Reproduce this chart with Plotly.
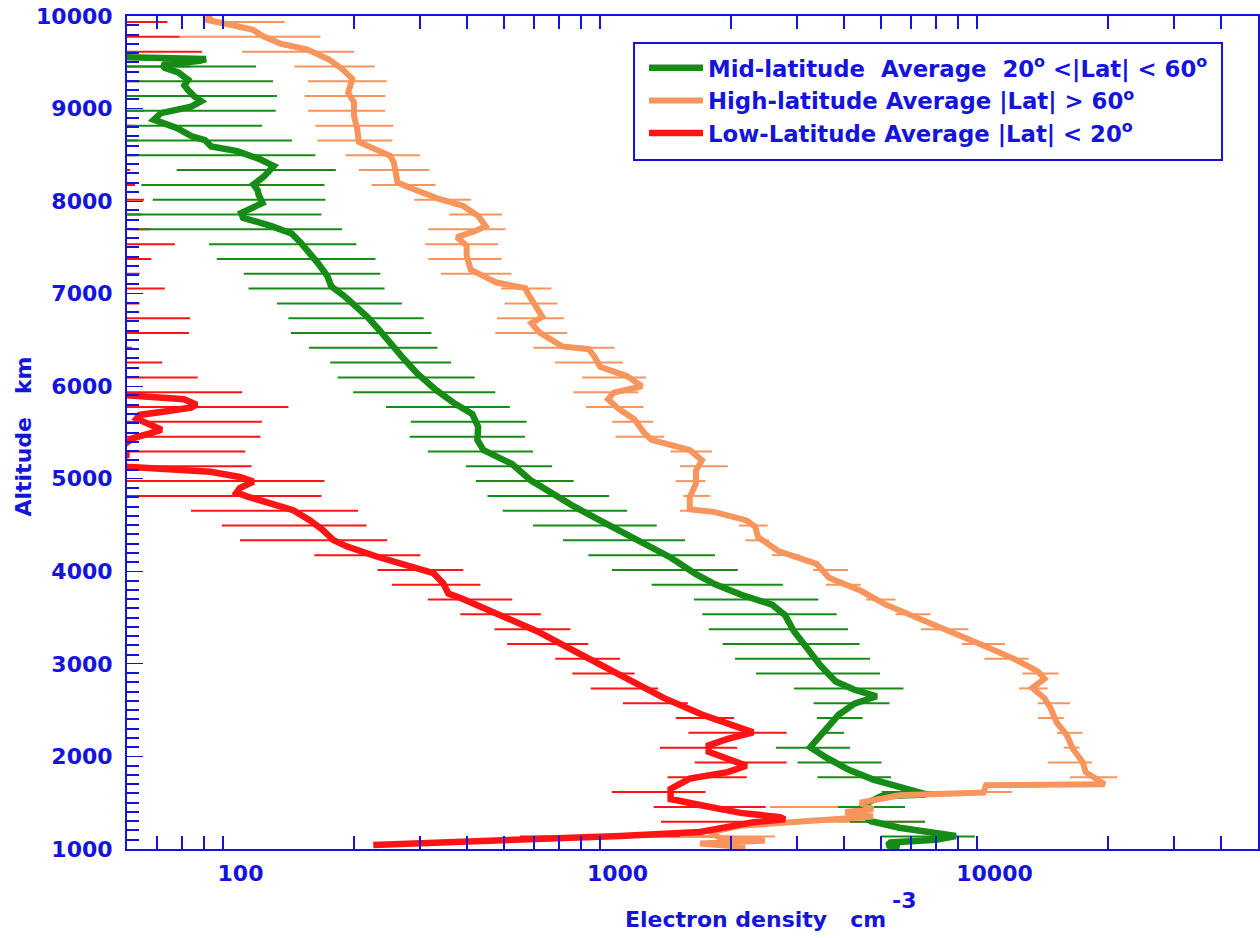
import math
import plotly.graph_objects as go

BLUE = "#1414dc"
GREEN = "#168c16"
ORANGE = "#f7955c"
RED = "#fe1414"
FONT = "DejaVu Sans"

# ---------------- averaged profiles (altitude km, electron density cm^-3) -------------
mid_alt = [9560, 9550, 9535, 9515, 9495, 9470, 9440, 9390, 9310, 9250, 9200, 9140, 9080, 9020,
           8950, 8880, 8790, 8700, 8660, 8590, 8540, 8450, 8380, 8270, 8180, 8120, 8070, 7980,
           7870, 7820, 7730, 7650, 7550, 7440, 7330, 7190, 7080, 6970, 6860, 6750, 6610, 6460,
           6320, 6140, 5960, 5810, 5700, 5560, 5420, 5310, 5160, 4980, 4870, 4690, 4510, 4330,
           4150, 3970, 3860, 3750, 3640, 3530, 3350, 3170, 2990, 2810, 2720, 2650, 2570, 2450,
           2260, 2100, 1990, 1860, 1750, 1650, 1590, 1570, 1480, 1400, 1300, 1230, 1180, 1140,
           1100, 1070, 1040, 1010]
mid_ne = [44, 70, 81, 78, 66, 62, 63, 68.4, 72.6, 71, 72.6, 75, 78.7, 74,
          61.5, 58.9, 67.7, 74.3, 80.5, 83.6, 98, 113, 122.5, 115.7, 108.3, 111, 111.7, 114.4,
          100.4, 101.6, 120.8, 136.6, 144.5, 153, 160.4, 170, 174, 189, 203.7, 217, 233, 249.7,
          268, 293.7, 330, 371, 412, 427, 425, 441, 525, 590, 650, 775, 938, 1140,
          1383, 1615, 1815, 2120, 2570, 2780, 2940, 3185, 3440, 3790, 4250, 4870, 4250, 3860,
          3510, 3245, 3575, 4085, 4770, 5790, 6600, 5000, 4500, 4400, 4700, 5600, 6700, 7900,
          7000, 5300, 5200, 5600]

high_alt = [10000, 9960, 9900, 9850, 9780, 9700, 9640, 9530, 9420, 9320, 9170, 9070, 8920, 8780,
            8640, 8560, 8490, 8420, 8310, 8200, 8130, 8020, 7950, 7840, 7730, 7680, 7610, 7520,
            7410, 7260, 7120, 7060, 7010, 6860, 6750, 6680, 6580, 6430, 6400, 6320, 6210, 6110,
            6000, 5930, 5860, 5750, 5640, 5500, 5420, 5310, 5200, 5090, 4950, 4800, 4670, 4640,
            4550, 4480, 4370, 4220, 4080, 3930, 3790, 3640, 3500, 3350, 3210, 3060, 2920, 2840,
            2740, 2630, 2520, 2370, 2230, 2080, 1940, 1830, 1730, 1700, 1690, 1610, 1580, 1500,
            1430, 1400, 1350, 1290, 1250, 1180, 1120, 1090, 1060, 1020]
high_ne = [84, 81, 95.5, 108, 115, 128, 150, 172, 187, 198, 193, 200, 200, 204,
           206, 227, 249.5, 255, 258, 261, 287, 338, 389, 427, 447, 421, 375, 398,
           398, 408, 478, 570, 577, 605, 632, 591, 621, 713, 839, 869, 899, 1059,
           1161, 977, 944, 1011, 1110, 1175, 1230, 1555, 1675, 1615, 1615, 1555, 1555, 1815,
           2200, 2320, 2360, 2670, 3375, 3640, 4420, 5150, 6260, 7600, 9210, 11190, 13040, 13570,
           12600, 13570, 14100, 14600, 15550, 16150, 17140, 17460, 18900, 19600, 9500, 9350, 5600, 4400,
           4760, 4020, 4760, 3050, 2115, 1760, 1870, 2460, 1655, 2185]

low_alt = [5930, 5905, 5890, 5860, 5800, 5770, 5730, 5690, 5650, 5600, 5530, 5490, 5440, 5380,
           5330, 5260, 5190, 5130, 5110, 5075, 5020, 4970, 4900, 4850, 4810, 4730, 4660, 4550,
           4450, 4340, 4270, 4160, 4050, 3980, 3870, 3760, 3710, 3530, 3350, 3170, 2990, 2810,
           2630, 2450, 2340, 2260, 2190, 2120, 2050, 1970, 1900, 1830, 1760, 1650, 1540, 1470,
           1390, 1345, 1320, 1290, 1238, 1184, 1140, 1097, 1065, 1043]
low_ne = [40, 50, 57.5, 70.8, 76.5, 74, 63.7, 54, 53, 56, 61.8, 57.5, 52, 49.5,
          45, 50.5, 45, 50, 63.7, 83.2, 99.6, 108.2, 99.6, 97.6, 104, 119, 138, 153,
          165, 176, 191, 229.6, 282, 325, 345, 356, 385, 486, 614, 743, 904, 1097,
          1330, 1680, 2040, 2290, 1960, 1745, 1745, 1960, 2200, 1960, 1555, 1383, 1383, 1680,
          2120, 2700, 2780, 2300, 1980, 1655, 1016, 519, 344, 225]

# ---------------- error-bar rows (altitude km) and their lower / upper ends ----------------
bar_alt = [1135, 1295, 1455, 1615, 1775, 1935, 2095, 2255, 2415, 2575, 2735, 2895, 3055, 3215,
           3375, 3535, 3695, 3855, 4015, 4175, 4335, 4495, 4655, 4815, 4975, 5135, 5295, 5455,
           5615, 5775, 5935, 6095, 6255, 6415, 6575, 6735, 6895, 7055, 7215, 7375, 7535, 7695,
           7855, 8015, 8175, 8335, 8495, 8655, 8815, 8975, 9135, 9295, 9455, 9615, 9775, 9935]

mid_lo = [5000, 4139, 3846, 5022, 3393, 3002, 2633, 3424, 3382, 3311, 2940, 2331, 2050, 1900,
          1746, 1679, 1596, 1232, 966, 837, 717, 597, 496, 452, 421, 396, 314, 281,
          283, 243, 199, 181, 173, 152, 136, 134, 125, 105, 102, 86.5, 82.5, 51,
          49, 58.5, 54.6, 67.7, 45, 40, 40, 40, 40, 40, 40, None, None, None]
mid_hi = [8875, 6541, 5789, 7080, 5315, 5015, 4139, 3990, 4467, 5266, 5737, 4969, 4676, 4385,
          4089, 3815, 3410, 2745, 2085, 1814, 1510, 1271, 1060, 950, 765, 671, 597, 568,
          574, 518, 474, 418, 362, 333, 321, 306, 268, 241, 235, 228, 203, 186,
          164, 168, 167, 179, 158, 137, 114, 124, 125, 122, 110, None, None, None]

high_lo = [1465, 2538, 2538, 7080, 15860, 13840, 15260, 14650, 13040, 13040, 11610, 11860, 9404, 8203,
           6385, 5467, 4563, 3573, 3301, 2570, 2184, 2101, 1465, 1495, 1427, 1465, 1384, 988,
           969, 825, 764, 806, 683, 598, 474, 479, 502, 491, 340, 315, 309, 315,
           358, 289, 223, 206, 190, 160, 158, 151, 148, 151, 139, 101, 69, 86]
high_hi = [2617, 6541, 5513, 11130, 21190, 18140, 16800, 17130, 15260, 15860, 13840, 14790, 12320, 10660,
           8533, 6767, 5467, 4420, 4089, 3036, 2522, 2501, 1781, 1760, 1712, 1961, 1781, 1331,
           1243, 1171, 1136, 1190, 1034, 983, 735, 721, 693, 668, 523, 493, 482, 505,
           494, 409, 329, 317, 299, 253, 254, 242, 242, 244, 227, 200, 163, 131]

low_lo = [551, 1304, 1247, 966, 1358, 1603, 1296, 1542, 1427, 1034, 849, 759, 684, 510,
          472, 383, 314, 252, 231, 157, 99.7, 89.3, 73.9, 20, 20, 20, 20, 20,
          20, 20, 20, 20, 20, 20, 20, 20, 20, 20, 20, 20, 20, 20,
          20, 20, 20, 20, 20, 20, 20, 20, 20, 20, 20, 20, 20, 20]
low_hi = [1871, 2570, 2473, 1712, 2203, 2810, 2078, 2810, 2037, 1537, 1281, 1110, 1016, 837,
          750, 626, 526, 433, 390, 300, 245, 216, 205, 164, 167, 107, 103, 113,
          114, 134, 101, 77, 62, 51.5, 73, 73.5, 54, 63, 54, 58, 67, 57.5,
          54.6, 55.5, 52.5, 51, 53, 53.5, 52, 55.5, 52.5, 54, 73.5, 79, 69, 64]

x_major = [100, 1000, 10000]
x_minor = [60, 70, 80, 90, 200, 300, 400, 500, 600, 700, 800, 900,
           2000, 3000, 4000, 5000, 6000, 7000, 8000, 9000, 20000, 30000, 40000]

names = {
    "mid": "Mid-latitude&nbsp; Average&nbsp; 20<sup>o</sup> &lt;|Lat| &lt; 60<sup>o</sup>",
    "high": "High-latitude Average |Lat| &gt; 60<sup>o</sup>",
    "low": "Low-Latitude Average |Lat| &lt; 20<sup>o</sup>",
}


def bar_trace(lo, hi, color):
    ys, xs, plus, minus = [], [], [], []
    for a, l, h in zip(bar_alt, lo, hi):
        if l is None or h is None:
            continue
        c = math.sqrt(l * h)
        ys.append(a)
        xs.append(c)
        plus.append(h - c)
        minus.append(c - l)
    return go.Scatter(
        x=xs, y=ys, mode="markers",
        marker=dict(size=1, color="rgba(0,0,0,0)"),
        error_x=dict(type="data", symmetric=False, array=plus, arrayminus=minus,
                     color=color, thickness=2, width=0),
        showlegend=False, hoverinfo="skip",
    )


fig = go.Figure()
fig.add_trace(bar_trace(low_lo, low_hi, RED))
fig.add_trace(bar_trace(high_lo, high_hi, ORANGE))
fig.add_trace(bar_trace(mid_lo, mid_hi, GREEN))

fig.add_trace(go.Scatter(x=mid_ne, y=mid_alt, mode="lines", name=names["mid"],
                         line=dict(color=GREEN, width=6.5), legendgroup="mid"))
fig.add_trace(go.Scatter(x=high_ne, y=high_alt, mode="lines", name=names["high"],
                         line=dict(color=ORANGE, width=6), legendgroup="high"))
fig.add_trace(go.Scatter(x=low_ne, y=low_alt, mode="lines", name=names["low"],
                         line=dict(color=RED, width=6.5), legendgroup="low"))

tickfont = dict(family=FONT, size=22, color=BLUE, weight="bold")

fig.update_layout(
    width=1260, height=938,
    margin=dict(l=127, r=2, t=16, b=89, autoexpand=False),
    paper_bgcolor="white", plot_bgcolor="white",
    font=dict(family=FONT, size=22, color=BLUE),
    showlegend=True,
    legend=dict(
        x=0.4571, y=0.9634, xanchor="left", yanchor="top",
        borderwidth=0, bgcolor="rgba(0,0,0,0)",
        font=dict(family=FONT, size=22.8, color=BLUE, weight="bold"),
        itemwidth=54, tracegroupgap=0, traceorder="normal",
    ),
    shapes=[
        # legend frame
        dict(type="rect", xref="paper", yref="paper", x0=0.4483, x1=0.9682,
             y0=0.8271, y1=0.9676, line=dict(color=BLUE, width=2),
             fillcolor="white", layer="above"),
    ],
    xaxis=dict(
        type="log", range=[math.log10(50), math.log10(50000)], automargin=False,
        showline=True, linecolor=BLUE, linewidth=2, mirror="ticks",
        showgrid=False, zeroline=False,
        tickmode="array", tickvals=x_major, ticktext=[str(v) for v in x_major],
        ticks="inside", ticklen=0, tickcolor=BLUE,
        tickfont=tickfont, ticklabelstandoff=4,
        minor=dict(tickmode="array", tickvals=x_minor, ticks="inside",
                   ticklen=13, tickwidth=1.5, tickcolor=BLUE, showgrid=False),
    ),
    yaxis=dict(
        range=[1000, 10000], automargin=False,
        showline=True, linecolor=BLUE, linewidth=2, mirror=True,
        showgrid=False, zeroline=False,
        tick0=0, dtick=1000, tickformat="d",
        ticks="inside", ticklen=16, tickwidth=1, tickcolor=BLUE,
        tickfont=tickfont, ticklabelstandoff=8,
        minor=dict(dtick=100, ticks="inside", ticklen=12, tickwidth=2,
                   tickcolor=BLUE, showgrid=False),
    ),
    # right-hand altitude scale (ticks only, as in the original frame)
    yaxis2=dict(
        overlaying="y", side="right", range=[1000, 10000], automargin=False,
        showline=False, showgrid=False, zeroline=False, showticklabels=False,
        tick0=0, dtick=1000, ticks="inside", ticklen=16, tickwidth=1, tickcolor=BLUE,
        minor=dict(dtick=100, ticks="inside", ticklen=12, tickwidth=2,
                   tickcolor=BLUE, showgrid=False),
    ),
    annotations=[
        dict(text="Altitude&nbsp;&nbsp;&nbsp;km", textangle=-90, xref="paper", yref="paper",
             x=-0.0915, y=0.4946, xanchor="center", yanchor="middle", showarrow=False,
             font=dict(family=FONT, size=22, color=BLUE, weight="bold")),
        dict(text="Electron density&nbsp;&nbsp;&nbsp;cm", xref="paper", yref="paper",
             x=0.5553, y=-0.0852, xanchor="center", yanchor="middle", showarrow=False,
             font=dict(family=FONT, size=22, color=BLUE, weight="bold")),
        dict(text="-3", xref="paper", yref="paper",
             x=0.687, y=-0.0624, xanchor="center", yanchor="middle", showarrow=False,
             font=dict(family=FONT, size=22, color=BLUE, weight="bold")),
    ],
)

fig.write_html("out.html", config={"displayModeBar": False},
               post_script="document.body.style.margin='0';")
